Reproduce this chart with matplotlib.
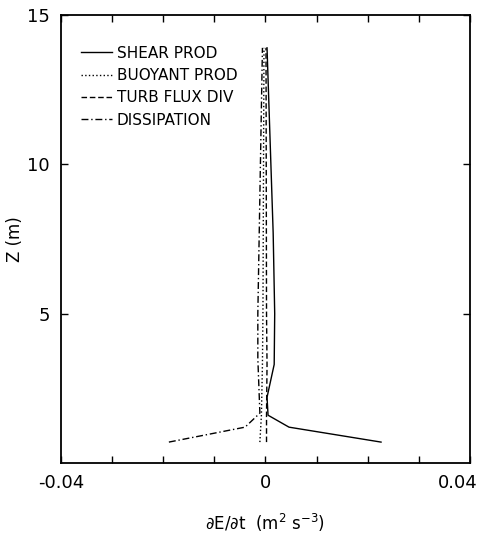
import matplotlib
matplotlib.use("Agg")
import matplotlib.pyplot as plt
import matplotlib.transforms as mtransforms

# Data
shear_z = [0.7, 1.2, 1.6, 2.2, 3.3, 5.0, 7.7, 13.9]
shear_x = [0.0226, 0.0046, 0.0005, 0.0003, 0.0017, 0.0018, 0.0015, 0.0003]

buoy_z = [0.7, 1.6, 3.3, 5.0, 13.9]
buoy_x = [-0.0011, -0.0008, -0.0006, -0.0005, -0.0003]

turb_z = [0.7, 1.6, 3.3, 5.0, 13.9]
turb_x = [0.0002, 0.0002, 0.0003, 0.0002, 0.0001]

diss_z = [0.7, 1.2, 1.67, 3.5, 5.0, 13.9]
diss_x = [-0.0189, -0.0040, -0.0011, -0.0015, -0.0015, -0.0006]

series_labels = ["SHEAR PROD", "BUOYANT PROD", "TURB FLUX DIV", "DISSIPATION"]
xtick_vals = [-0.04, -0.03, -0.02, -0.01, 0, 0.01, 0.02, 0.03, 0.04]
xtick_labels = ["-0.04", "", "", "", "0", "", "", "", "0.04"]
ytick_vals = [5, 10, 15]
ytick_labels = ["5", "10", "15"]

plt.rcParams['font.family'] = ['DejaVu Sans']
fig = plt.figure(figsize=(4.85, 5.35), dpi=100)
ax = fig.add_axes([61/485, 1 - 463/535, (470-61)/485, (463-15)/535])

lw = 1.0
ax.plot(shear_x, shear_z, '-', color='black', lw=lw, label=series_labels[0])
ax.plot(buoy_x, buoy_z, ':', color='black', lw=lw, label=series_labels[1])
ax.plot(turb_x, turb_z, '--', color='black', lw=lw, dashes=(4, 2), label=series_labels[2])
ax.plot(diss_x, diss_z, '-.', color='black', lw=lw, dashes=(5, 2, 1, 2), label=series_labels[3])

ax.set_xlim(-0.04, 0.04)
ax.set_ylim(0, 15)
ax.set_xticks(xtick_vals)
ax.set_xticklabels(xtick_labels)
ax.set_yticks(ytick_vals)
ax.set_yticklabels(ytick_labels)
ax.tick_params(direction='in', top=True, right=True, length=5, width=1, labelsize=13, pad=8)
for s in ax.spines.values():
    s.set_linewidth(1.3)

# shift the last x tick label leftwards so it stays inside the figure
last = ax.get_xticklabels()[-1]
last.set_transform(last.get_transform() + mtransforms.ScaledTranslation(-12/100, 0, fig.dpi_scale_trans))

ax.set_xlabel(r"$\partial$E/$\partial$t  (m$^2$ s$^{-3}$)", fontsize=12, labelpad=14)
ax.set_ylabel("Z (m)", fontsize=12)
ax.yaxis.set_label_coords(-0.09, 0.5)

leg = ax.legend(loc='upper left', bbox_to_anchor=(0.035, 0.945), frameon=False, fontsize=11,
                handlelength=2.0, handletextpad=0.3, labelspacing=0.48, borderaxespad=0)

fig.savefig("out.png", dpi=100)
